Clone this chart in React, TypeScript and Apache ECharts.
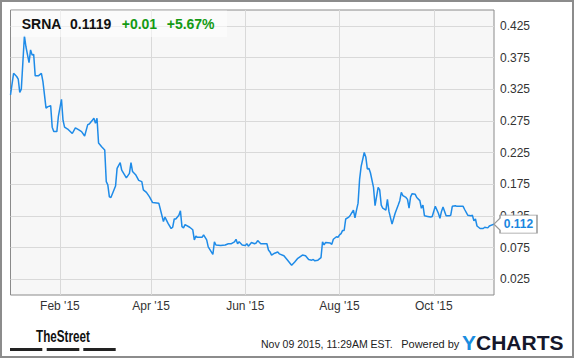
import React, { useEffect, useRef } from 'react';
import * as echarts from 'echarts';

const dates = [
  '2014-12-31','2015-01-02','2015-01-04','2015-01-05','2015-01-06','2015-01-07','2015-01-09','2015-01-10',
  '2015-01-12','2015-01-13','2015-01-14','2015-01-15','2015-01-16','2015-01-18','2015-01-20','2015-01-21',
  '2015-01-23','2015-01-24','2015-01-26','2015-01-27','2015-01-28','2015-01-30','2015-01-31','2015-02-02',
  '2015-02-03','2015-02-04','2015-02-06','2015-02-09','2015-02-11','2015-02-13','2015-02-15','2015-02-17',
  '2015-02-19','2015-02-20','2015-02-22','2015-02-23','2015-02-24','2015-02-25','2015-02-26','2015-02-28',
  '2015-03-02','2015-03-03','2015-03-04','2015-03-05','2015-03-06','2015-03-09','2015-03-10','2015-03-12',
  '2015-03-13','2015-03-16','2015-03-18','2015-03-19','2015-03-20','2015-03-22','2015-03-24','2015-03-26',
  '2015-03-27','2015-03-29','2015-03-31','2015-04-02','2015-04-06','2015-04-09','2015-04-10','2015-04-12',
  '2015-04-14','2015-04-15','2015-04-16','2015-04-17','2015-04-19','2015-04-20','2015-04-21','2015-04-22',
  '2015-04-23','2015-04-26','2015-04-28','2015-04-29','2015-04-30','2015-05-01','2015-05-04','2015-05-05',
  '2015-05-07','2015-05-08','2015-05-11','2015-05-12','2015-05-13','2015-05-16','2015-05-19','2015-05-21',
  '2015-05-23','2015-05-25','2015-05-26','2015-05-27','2015-05-28','2015-05-30','2015-06-01','2015-06-02',
  '2015-06-03','2015-06-05','2015-06-07','2015-06-08','2015-06-09','2015-06-11','2015-06-13','2015-06-15',
  '2015-06-16','2015-06-17','2015-06-18','2015-06-20','2015-06-22','2015-06-23','2015-06-26','2015-06-28',
  '2015-07-01','2015-07-03','2015-07-05','2015-07-08','2015-07-10','2015-07-12','2015-07-14','2015-07-15',
  '2015-07-16','2015-07-18','2015-07-20','2015-07-21','2015-07-22','2015-07-23','2015-07-26','2015-07-27',
  '2015-07-28','2015-07-30','2015-07-31','2015-08-01','2015-08-02','2015-08-03','2015-08-04','2015-08-05',
  '2015-08-07','2015-08-08','2015-08-10','2015-08-11','2015-08-12','2015-08-13','2015-08-14','2015-08-15',
  '2015-08-17','2015-08-18','2015-08-19','2015-08-20','2015-08-21','2015-08-23','2015-08-24','2015-08-26',
  '2015-08-27','2015-08-28','2015-08-29','2015-08-31','2015-09-01','2015-09-02','2015-09-04','2015-09-06',
  '2015-09-08','2015-09-09','2015-09-10','2015-09-11','2015-09-13','2015-09-14','2015-09-15','2015-09-16',
  '2015-09-17','2015-09-19','2015-09-20','2015-09-22','2015-09-23','2015-09-24','2015-09-25','2015-09-27',
  '2015-09-29','2015-09-30','2015-10-02','2015-10-04','2015-10-05','2015-10-06','2015-10-07','2015-10-09',
  '2015-10-11','2015-10-12','2015-10-13','2015-10-15','2015-10-16','2015-10-20','2015-10-21','2015-10-23',
  '2015-10-25','2015-10-26','2015-10-27','2015-10-28','2015-10-29','2015-10-31','2015-11-02','2015-11-03',
  '2015-11-05','2015-11-06','2015-11-09',
];

const prices = [
  0.316,0.350,0.345,0.341,0.320,0.325,0.409,0.392,
  0.367,0.387,0.379,0.380,0.346,0.346,0.350,0.337,
  0.295,0.297,0.299,0.265,0.258,0.258,0.282,0.309,
  0.276,0.265,0.262,0.255,0.264,0.261,0.258,0.251,
  0.269,0.270,0.276,0.279,0.271,0.279,0.240,0.234,
  0.229,0.179,0.174,0.155,0.154,0.172,0.200,0.209,
  0.197,0.185,0.192,0.209,0.195,0.190,0.181,0.179,
  0.166,0.162,0.155,0.146,0.145,0.116,0.123,0.113,
  0.105,0.107,0.120,0.120,0.126,0.133,0.108,0.106,
  0.111,0.107,0.103,0.087,0.093,0.091,0.091,0.095,
  0.087,0.076,0.064,0.084,0.079,0.078,0.079,0.081,
  0.081,0.084,0.088,0.081,0.084,0.079,0.078,0.081,
  0.077,0.083,0.081,0.082,0.086,0.081,0.081,0.081,
  0.071,0.068,0.063,0.066,0.068,0.065,0.062,0.056,
  0.047,0.052,0.058,0.063,0.062,0.056,0.055,0.056,
  0.054,0.055,0.059,0.084,0.079,0.083,0.082,0.080,
  0.088,0.092,0.091,0.095,0.097,0.102,0.102,0.120,
  0.123,0.126,0.134,0.122,0.134,0.145,0.183,0.203,
  0.225,0.218,0.199,0.200,0.193,0.170,0.141,0.170,
  0.166,0.142,0.137,0.134,0.151,0.132,0.112,0.129,
  0.142,0.149,0.162,0.157,0.154,0.151,0.137,0.155,
  0.160,0.159,0.154,0.149,0.137,0.142,0.125,0.124,
  0.123,0.124,0.140,0.129,0.121,0.132,0.139,0.125,
  0.125,0.126,0.140,0.141,0.140,0.140,0.135,0.126,
  0.125,0.126,0.117,0.120,0.109,0.105,0.105,0.107,
  0.106,0.109,0.1119,
];

const monthNames = ['Jan','Feb','Mar','Apr','May','Jun','Jul','Aug','Sep','Oct','Nov','Dec'];
const labeledMonths = ['02', '04', '06', '08', '10'];
const axisStart = '2014-12-31';
const axisEnd = '2015-11-09';
const ticker = 'SRNA';
const lastPrice = '0.1119';
const change = '+0.01';
const changePct = '+5.67%';
const lastLabel = '0.112';

const FONT = '"Liberation Sans", Arial, Helvetica, sans-serif';

function buildCategories(): string[] {
  const out: string[] = [];
  const s = Date.parse(axisStart + 'T00:00:00Z');
  const e = Date.parse(axisEnd + 'T00:00:00Z');
  for (let t = s; t <= e; t += 86400000) out.push(new Date(t).toISOString().slice(0, 10));
  return out;
}

const isMonthTick = (v: string) => v.slice(8) === '01' && labeledMonths.includes(v.slice(5, 7));

export default function App() {
  const ref = useRef<HTMLDivElement>(null);
  useEffect(() => {
    document.body.style.margin = '0';
    const chart = echarts.init(ref.current!, null, { renderer: 'svg' });
    const categories = buildCategories();
    const seriesData = dates.map((d, i) => [d, prices[i]]);
    chart.setOption({
      animation: false,
      backgroundColor: '#ffffff',
      textStyle: { fontFamily: FONT },
      grid: {
        left: 10.5, top: 10, right: 81, bottom: 63,
        show: true, backgroundColor: '#f7f7f7', borderColor: '#8a8a8a', borderWidth: 1,
      },
      xAxis: {
        type: 'category',
        data: categories,
        boundaryGap: false,
        axisLine: { show: false },
        axisTick: { show: false },
        splitLine: {
          show: true,
          interval: (_i: number, v: string) => isMonthTick(v),
          lineStyle: { color: '#d9d9d9', width: 1 },
        },
        axisLabel: {
          interval: (_i: number, v: string) => isMonthTick(v),
          formatter: (v: string) => monthNames[parseInt(v.slice(5, 7), 10) - 1] + " '" + v.slice(2, 4),
          color: '#333', fontSize: 12, margin: 5, fontFamily: FONT,
        },
      },
      yAxis: {
        type: 'value',
        position: 'right',
        min: 0, max: 0.45, interval: 0.025,
        axisLine: { show: false },
        axisTick: { show: false },
        splitLine: { show: true, lineStyle: { color: ['rgba(0,0,0,0)', '#d9d9d9'], width: 1 } },
        axisLabel: {
          color: '#333', fontSize: 12, margin: 6, fontFamily: FONT,
          formatter: (v: number) => (Math.round(v * 1000) % 50 === 25 ? v.toFixed(3) : ''),
        },
      },
      series: [{
        type: 'line',
        data: seriesData,
        showSymbol: false,
        symbol: 'none',
        clip: false,
        lineStyle: { color: '#1e8be8', width: 1.5 },
        markPoint: {
          symbol: 'path://M0,9L6,3L6,0L43,0L43,18L6,18L6,15Z',
          symbolSize: [43, 18],
          symbolOffset: [21.5, 0],
          itemStyle: { color: '#ffffff', borderColor: '#9a9a9a', borderWidth: 1 },
          label: {
            show: true, position: 'inside', formatter: lastLabel, color: '#1a86e0',
            fontWeight: 'bold', fontSize: 12, fontFamily: FONT, offset: [3, 0],
          },
          data: [{ coord: [dates[dates.length - 1], prices[prices.length - 1]] }],
        },
      }],
      graphic: [
        { type: 'rect', silent: true, z: 0, shape: { x: 1, y: 1, width: 572, height: 356 },
          style: { fill: 'none', stroke: '#8c8c8c', lineWidth: 2 } },
        { type: 'rect', silent: true, z: 50, shape: { x: 11, y: 10.5, width: 216, height: 26.5 },
          style: { fill: 'rgba(255,255,255,0.55)' } },
        { type: 'text', z: 51, x: 21.7, y: 24, style: { text: ticker, fill: '#111', font: `bold 14px ${FONT}`, verticalAlign: 'middle' } },
        { type: 'text', z: 51, x: 70, y: 24, style: { text: lastPrice, fill: '#111', font: `bold 14px ${FONT}`, verticalAlign: 'middle' } },
        { type: 'text', z: 51, x: 121.7, y: 24, style: { text: change, fill: '#149a14', font: `bold 14px ${FONT}`, verticalAlign: 'middle' } },
        { type: 'text', z: 51, x: 166.7, y: 24, style: { text: changePct, fill: '#149a14', font: `bold 14px ${FONT}`, verticalAlign: 'middle' } },
        { type: 'text', z: 51, x: 36, y: 336, scaleX: 0.73, style: { text: 'TheStreet', fill: '#111', font: `bold 16px ${FONT}`, verticalAlign: 'middle' } },
        { type: 'rect', silent: true, shape: { x: 10, y: 348, width: 32.3, height: 3 }, style: { fill: '#222' } },
        { type: 'rect', silent: true, shape: { x: 46.7, y: 348, width: 32.6, height: 3 }, style: { fill: '#222' } },
        { type: 'rect', silent: true, shape: { x: 83.3, y: 348, width: 32.4, height: 3 }, style: { fill: '#222' } },
        { type: 'text', x: 261, y: 344, style: { text: 'Nov 09 2015, 11:29AM EST.', fill: '#222', font: `10.5px ${FONT}`, verticalAlign: 'middle' } },
        { type: 'text', x: 459.3, y: 344, style: { text: 'Powered by', fill: '#222', font: `11px ${FONT}`, verticalAlign: 'middle', align: 'right' } },
        { type: 'text', x: 563.5, y: 342, style: {
            text: '{y|Y}{c|CHARTS}', align: 'right', verticalAlign: 'middle',
            rich: {
              y: { fill: '#1a8de0', font: `bold 21px ${FONT}` },
              c: { fill: '#15172b', font: `bold 21px ${FONT}` },
            },
          } },
      ],
    });
    return () => chart.dispose();
  }, []);
  return <div ref={ref} style={{ width: 575, height: 358 }} />;
}
